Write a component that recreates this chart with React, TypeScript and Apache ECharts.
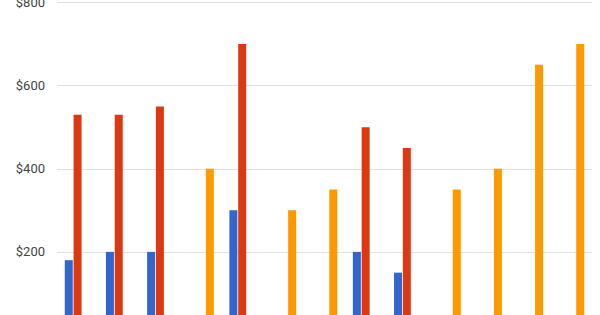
import React, { useEffect, useRef } from "react";
import * as echarts from "echarts";

const categories = ["1", "2", "3", "4", "5", "6", "7", "8", "9", "10", "11", "12", "13"];
const blueValues = [180, 200, 200, null, 300, null, null, 200, 150, null, null, null, null];
const redValues = [530, 530, 550, null, 700, null, null, 500, 450, null, null, null, null];
const orangeValues = [null, null, null, 400, null, 300, 350, null, null, 350, 400, 650, 700];
const yTicks = { min: 0, max: 800, interval: 200 };

export default function App() {
  const ref = useRef<HTMLDivElement>(null);
  useEffect(() => {
    if (!ref.current) return;
    const chart = echarts.init(ref.current, null, { renderer: "svg" });
    const barCommon = {
      type: "bar" as const,
      barWidth: 8,
      barGap: "10%",
    };
    chart.setOption({
      animation: false,
      grid: { left: 57, right: 8, top: 2.5, bottom: 5, containLabel: false, outerBoundsMode: "none" },
      xAxis: {
        type: "category",
        data: categories,
        axisLine: { show: false },
        axisTick: { show: false },
        axisLabel: { show: false },
      },
      yAxis: {
        type: "value",
        min: yTicks.min,
        max: yTicks.max,
        interval: yTicks.interval,
        axisLine: { show: false },
        axisTick: { show: false },
        axisLabel: {
          formatter: (v: number) => (v === 0 ? "" : "$" + v),
          color: "#444444",
          fontFamily: "Roboto",
          fontSize: 13,
          margin: 12,
        },
        splitLine: { lineStyle: { color: "#e0e0e0", width: 1 } },
      },
      series: [
        { ...barCommon, name: "blue", data: blueValues, itemStyle: { color: "#3366cc" } },
        { ...barCommon, name: "red", data: redValues, itemStyle: { color: "#dc3912" } },
        { ...barCommon, name: "orange", data: orangeValues, itemStyle: { color: "#ff9900" } },
      ],
    });
    return () => chart.dispose();
  }, []);
  return (
    <div style={{ position: "fixed", top: 0, left: 0, width: 600, height: 315, overflow: "hidden", background: "#fff" }}>
      <div ref={ref} style={{ width: 600, height: 340 }} />
    </div>
  );
}
